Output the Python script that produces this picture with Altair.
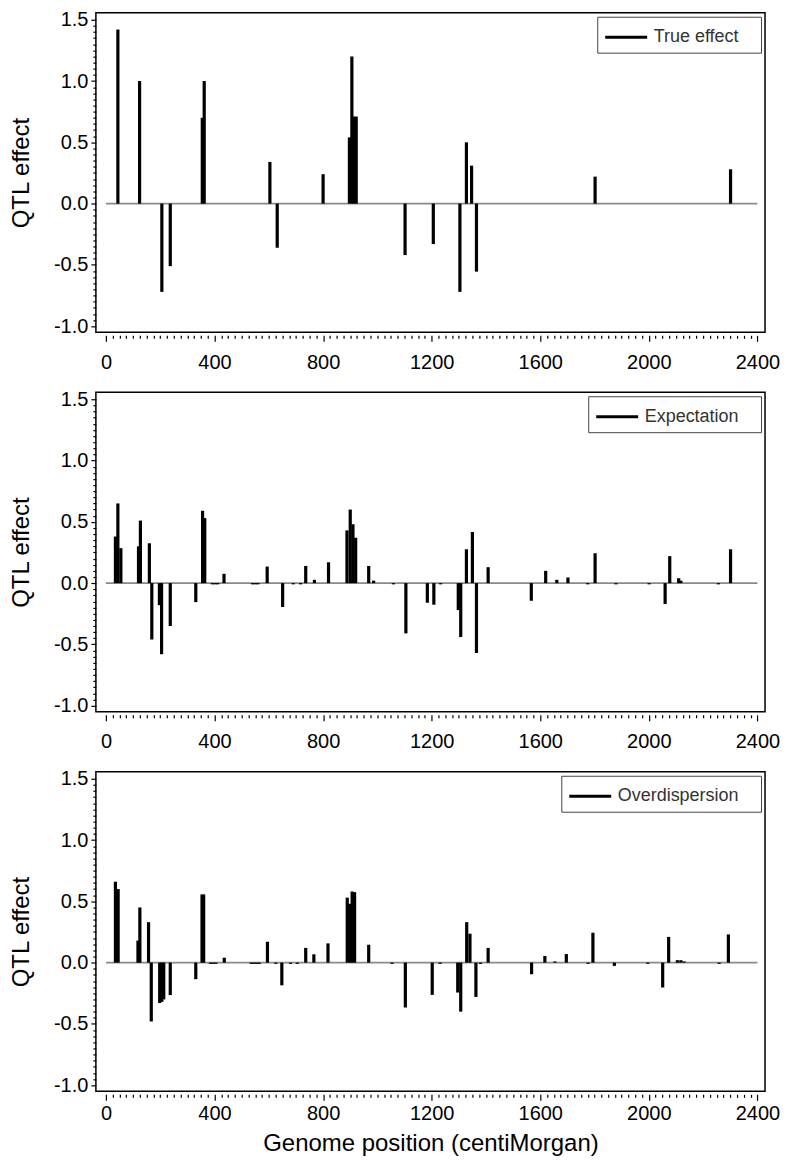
import altair as alt
import pandas as pd

FONT = "Liberation Sans"

# ---------------- data ----------------
true_pos = [44, 124, 206, 237, 355, 362, 604, 631, 800, 897, 906, 914, 922,
            1102, 1206, 1304, 1328, 1347, 1365, 1802, 2301]
true_eff = [1.42, 1.00, -0.72, -0.51, 0.70, 1.00, 0.34, -0.36, 0.24, 0.54, 1.20, 0.71, 0.71,
            -0.42, -0.33, -0.72, 0.50, 0.31, -0.555, 0.22, 0.28]

exp_pos = [35, 44, 55, 120, 127, 160, 169, 197, 205, 237, 331, 356, 364, 392, 402, 412,
           435, 540, 550, 560, 594, 651, 690, 717, 736, 768, 820, 888, 900, 910, 920,
           968, 986, 1059, 1105, 1184, 1208, 1233, 1298, 1307, 1328, 1350, 1365, 1408,
           1567, 1620, 1661, 1702, 1775, 1802, 1879, 2001, 2060, 2077, 2110, 2118, 2256, 2301]
exp_eff = [0.38, 0.65, 0.285, 0.30, 0.51, 0.325, -0.46, -0.18, -0.58, -0.35, -0.155, 0.59, 0.53,
           -0.01, -0.01, -0.01, 0.076, -0.01, -0.01, -0.01, 0.135, -0.195, -0.01, -0.01, 0.14,
           0.027, 0.17, 0.43, 0.60, 0.48, 0.37, 0.14, 0.02, -0.01, -0.41, -0.16, -0.176, -0.01,
           -0.22, -0.44, 0.276, 0.417, -0.57, 0.13, -0.144, 0.10, 0.027, 0.046, -0.01, 0.244,
           -0.01, -0.01, -0.17, 0.22, 0.04, 0.02, -0.01, 0.276]

ovd_pos = [35, 45, 118, 125, 157, 167, 198, 206, 213, 237, 331, 354, 360, 385, 395, 405,
           436, 535, 545, 555, 565, 595, 626, 648, 680, 705, 736, 766, 818, 889, 898, 907, 916,
           968, 1054, 1103, 1202, 1231, 1296, 1307, 1329, 1341, 1363, 1380, 1408, 1568, 1617,
           1654, 1696, 1776, 1794, 1873, 1996, 2051, 2073, 2105, 2118, 2130, 2259, 2293]
ovd_eff = [0.66, 0.60, 0.18, 0.45, 0.33, -0.48, -0.33, -0.32, -0.30, -0.265, -0.135, 0.556, 0.556,
           -0.01, -0.01, -0.01, 0.04, -0.01, -0.01, -0.01, -0.01, 0.17, -0.01, -0.185, -0.01, -0.01,
           0.12, 0.068, 0.157, 0.53, 0.48, 0.58, 0.575, 0.146, -0.01, -0.366, -0.263, -0.01,
           -0.244, -0.40, 0.33, 0.236, -0.28, -0.01, 0.12, -0.095, 0.054, 0.01, 0.07, -0.01,
           0.244, -0.027, -0.01, -0.203, 0.21, 0.02, 0.02, 0.01, -0.01, 0.23]

series_names = ["True effect", "Expectation", "Overdispersion"]

ZERO_LINE_X = [0, 2400]
X_DOMAIN = [-37, 2428]
Y_DOMAIN = [-1.05, 1.557]
X_TICKS = list(range(0, 2401, 25))
Y_TICKS = [round(-1.0 + 0.05 * i, 2) for i in range(51)]

X_TITLE = "Genome position (centiMorgan)"
Y_TITLE = "QTL effect"

X_MAJOR_TEST = "datum.value % 400 === 0"
Y_MAJOR_TEST = "abs(datum.value * 2 - round(datum.value * 2)) < 0.001"
# trailing no-break spaces (kept alive by a zero-width space) widen the legend box on the right
LEGEND_TAIL = "\u00a0" * 3 + "\u200b"


def panel(pos, eff, name, show_x_title, x_label_pad):
    df = pd.DataFrame({"pos": pos, "effect": eff, "base": [0.0] * len(pos),
                       "series": [name] * len(pos)})
    zdf = pd.DataFrame({"x0": [ZERO_LINE_X[0]], "x1": [ZERO_LINE_X[1]], "y": [0.0]})

    xs = alt.Scale(domain=X_DOMAIN, nice=False, zero=False)
    ys = alt.Scale(domain=Y_DOMAIN, nice=False, zero=False)
    xtitle = X_TITLE if show_x_title else None

    xaxis = alt.Axis(values=X_TICKS, format="d", labelOverlap=False,
                     labelExpr=f"{X_MAJOR_TEST} ? datum.label : ''",
                     tickSize={"condition": {"test": X_MAJOR_TEST, "value": 6}, "value": 3},
                     offset=3, labelPadding=x_label_pad, titlePadding=8, labelFlush=False)
    yaxis = alt.Axis(values=Y_TICKS, labelOverlap=False,
                     labelExpr=f"{Y_MAJOR_TEST} ? ((datum.value < 0 ? '-' : '') + format(abs(datum.value), '.1f')) : ''",
                     tickSize={"condition": {"test": Y_MAJOR_TEST, "value": 5}, "value": 3},
                     labelPadding=3, titlePadding=20, labelFlush=False)

    zero = alt.Chart(zdf).mark_rule(color="#8a8a8a", strokeWidth=1.6).encode(
        x=alt.X("x0:Q", scale=xs, axis=xaxis, title=xtitle),
        x2="x1:Q",
        y=alt.Y("y:Q", scale=ys, axis=yaxis, title=Y_TITLE),
    )
    bars = alt.Chart(df).mark_rule(strokeWidth=3.2, strokeCap="butt").encode(
        x=alt.X("pos:Q", scale=xs, axis=xaxis, title=xtitle),
        y=alt.Y("base:Q", scale=ys, axis=yaxis, title=Y_TITLE),
        y2="effect:Q",
        color=alt.Color("series:N", scale=alt.Scale(range=["black"]),
                        legend=alt.Legend(title=None, orient="top-right", offset=4,
                                          symbolType="M-1,0H2.36", symbolSize=625,
                                          symbolStrokeWidth=3, labelFontSize=18,
                                          labelFont=FONT, labelColor="#333333",
                                          labelOffset=22, strokeColor="#444444",
                                          padding=6.5, fillColor="white", labelLimit=400,
                                          labelExpr=f"datum.label + '{LEGEND_TAIL}'")),
    )
    return alt.layer(zero, bars).properties(width=670, height=320)


p1 = panel(true_pos, true_eff, series_names[0], False, 11)
p2 = panel(exp_pos, exp_eff, series_names[1], False, 11)
p3 = panel(ovd_pos, ovd_eff, series_names[2], True, 3)

chart = (
    alt.vconcat(p1, p2, p3, spacing=15)
    .resolve_scale(color="independent")
    .resolve_legend(color="independent")
    .properties(padding={"left": 0, "top": 0, "right": 0, "bottom": 4}, background="white")
    .configure_view(stroke="black", strokeWidth=1.5)
    .configure_axis(labelFont=FONT, titleFont=FONT, labelFontSize=20, titleFontSize=24,
                    labelColor="black", titleColor="black", titleFontWeight="normal",
                    tickColor="black", tickWidth=1.2, domain=False, grid=False)
)

chart.save("out.html", embed_options={"renderer": "svg", "actions": False})
